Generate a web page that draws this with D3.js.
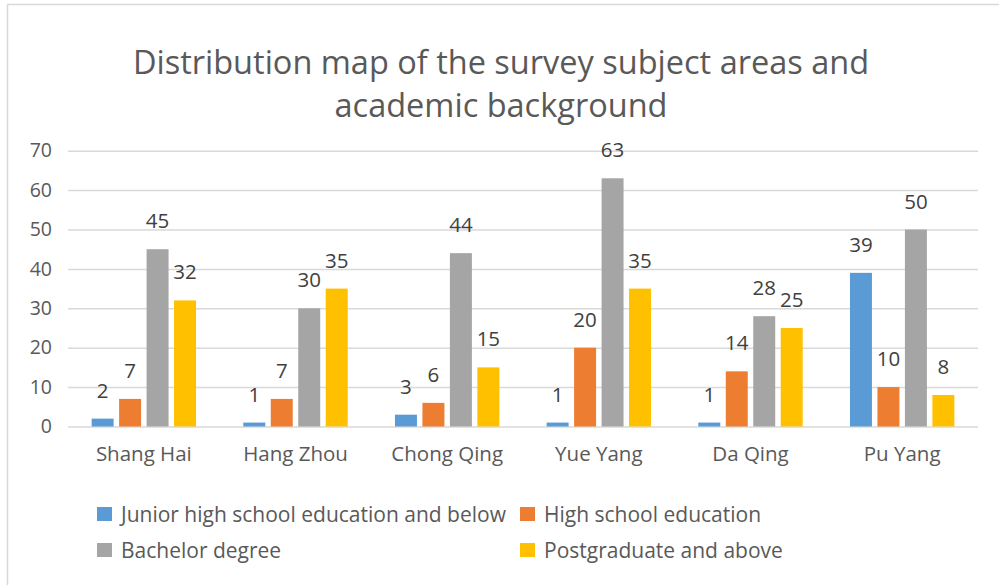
<!DOCTYPE html>
<html>
<head>
<meta charset="utf-8">
<script src="https://cdn.jsdelivr.net/npm/d3@7"></script>
<style>
  html, body { margin: 0; padding: 0; background: #fff; }
  svg { display: block; font-family: "Open Sans", "Noto Sans", sans-serif; }
</style>
</head>
<body>
<svg id="chart" width="999" height="585"></svg>
<script>
// Survey respondents by city and education level
const cities = ["Shang Hai", "Hang Zhou", "Chong Qing", "Yue Yang", "Da Qing", "Pu Yang"];
const seriesNames = [
  "Junior high school education and below",
  "High school education",
  "Bachelor degree",
  "Postgraduate and above"
];
const juniorHigh = [2, 1, 3, 1, 1, 39];
const highSchool = [7, 7, 6, 20, 14, 10];
const bachelor = [45, 30, 44, 63, 28, 50];
const postgraduate = [32, 35, 15, 35, 25, 8];
const yTicks = [0, 10, 20, 30, 40, 50, 60, 70];
const colors = ["#5B9BD5", "#ED7D31", "#A5A5A5", "#FFC000"];
const titleLines = ["Distribution map of the survey subject areas and", "academic background"];

const seriesValues = [juniorHigh, highSchool, bachelor, postgraduate];
const svg = d3.select("#chart");

// chart frame
svg.append("rect")
  .attr("x", 7.5).attr("y", 4.5)
  .attr("width", 1020).attr("height", 620)
  .attr("fill", "#fff").attr("stroke", "#d9d9d9").attr("stroke-width", 1.5);

const plot = { left: 68, right: 978, top: 150.7, bottom: 426.5 };

const x = d3.scaleBand().domain(cities).range([plot.left, plot.right]).padding(0);
const xInner = d3.scaleBand().domain(d3.range(4)).range([0, x.bandwidth()])
  .paddingInner(0.2).paddingOuter(0.86);
const y = d3.scaleLinear().domain([0, 70]).range([plot.bottom, plot.top]);

// title
svg.append("g").selectAll("text").data(titleLines).join("text")
  .attr("x", 501).attr("y", (d, i) => 74 + i * 43)
  .attr("text-anchor", "middle")
  .attr("font-size", 32.5).attr("fill", "#595959")
  .text(d => d);

// gridlines
svg.append("g").selectAll("line").data(yTicks).join("line")
  .attr("x1", plot.left).attr("x2", plot.right)
  .attr("y1", d => y(d) + 0.5).attr("y2", d => y(d) + 0.5)
  .attr("stroke", "#d9d9d9").attr("stroke-width", 1.5);

// y axis labels
const yAxis = d3.axisLeft(y).tickValues(yTicks).tickSize(0).tickPadding(16);
const yg = svg.append("g").attr("transform", `translate(${plot.left},0)`).call(yAxis);
yg.select(".domain").remove();
yg.selectAll("text").attr("font-size", 19.5).attr("fill", "#595959")
  .attr("font-family", "Open Sans, sans-serif");

// x axis labels
const xAxis = d3.axisBottom(x).tickSize(0).tickPadding(20);
const xg = svg.append("g").attr("transform", `translate(0,${plot.bottom})`).call(xAxis);
xg.select(".domain").remove();
xg.selectAll("text").attr("font-size", 20.5).attr("fill", "#595959")
  .attr("font-family", "Open Sans, sans-serif");

// bars and value labels
const rows = [];
cities.forEach((c, ci) => {
  seriesValues.forEach((vals, si) => rows.push({ city: c, s: si, v: vals[ci] }));
});

const groups = svg.append("g");
groups.selectAll("rect").data(rows).join("rect")
  .attr("x", d => x(d.city) + xInner(d.s))
  .attr("width", xInner.bandwidth())
  .attr("y", d => y(d.v))
  .attr("height", d => y(0) - y(d.v))
  .attr("fill", d => colors[d.s]);

groups.selectAll("text").data(rows).join("text")
  .attr("x", d => x(d.city) + xInner(d.s) + xInner.bandwidth() / 2)
  .attr("y", d => y(d.v) - 21)
  .attr("text-anchor", "middle")
  .attr("font-size", 20.5).attr("fill", "#404040")
  .text(d => d.v);

// legend
const legendPos = [
  { x: 97, y: 507 }, { x: 520, y: 507 },
  { x: 97, y: 543 }, { x: 520, y: 543 }
];
const legend = svg.append("g").selectAll("g").data(seriesNames).join("g")
  .attr("transform", (d, i) => `translate(${legendPos[i].x},${legendPos[i].y})`);
legend.append("rect").attr("width", 15).attr("height", 14)
  .attr("fill", (d, i) => colors[i]);
legend.append("text").attr("x", 24).attr("y", 14.5)
  .attr("font-size", 21).attr("fill", "#595959")
  .text(d => d);
</script>
</body>
</html>
